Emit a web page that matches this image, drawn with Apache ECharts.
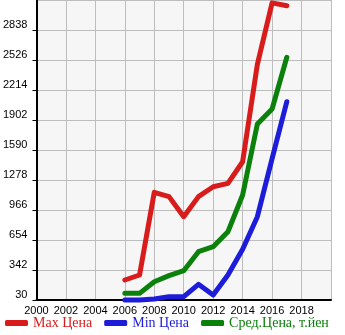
<!DOCTYPE html>
<html>
<head>
<meta charset="utf-8">
<script src="https://cdn.jsdelivr.net/npm/echarts@6/dist/echarts.min.js"></script>
<style>
  html, body { margin: 0; padding: 0; background: #ffffff; }
  #chart { width: 345px; height: 335px; }
</style>
</head>
<body>
<div id="chart"></div>
<script>
// Price history by model year
const years = [2006, 2007, 2008, 2009, 2010, 2011, 2012, 2013, 2014, 2015, 2016, 2017];
const maxPrice = [238, 290, 1150, 1105, 896, 1105, 1208, 1243, 1468, 2480, 3120, 3090];
const minPrice = [30, 30, 40, 65, 65, 193, 82, 290, 557, 896, 1500, 2092];
const avgPrice = [99, 99, 220, 283, 335, 532, 584, 740, 1122, 1860, 2016, 2554];

const seriesNames = ['Max Цена', 'Min Цена', 'Сред.Цена, т.йен'];
const seriesColors = ['#d81b1b', '#1d1dd9', '#0b800b'];

const pairs = vals => years.map((y, i) => [y, vals[i]]);

const chart = echarts.init(document.getElementById('chart'));

chart.setOption({
  animation: false,
  grid: {
    left: 31, right: 14, top: 0, bottom: 35,
    show: true, backgroundColor: '#f6f6f6', borderWidth: 0
  },
  legend: {
    left: 0, bottom: 0,
    itemWidth: 23, itemHeight: 6, itemGap: 12,
    icon: 'roundRect',
    data: seriesNames.map((n, i) => ({
      name: n,
      textStyle: { color: seriesColors[i] }
    })),
    textStyle: { fontFamily: 'Liberation Serif', fontSize: 14 }
  },
  xAxis: {
    type: 'value', min: 2000, max: 2020, interval: 2,
    axisLine: { show: true, lineStyle: { color: '#000', width: 2 } },
    axisTick: { show: false },
    splitLine: { show: true, lineStyle: { color: '#bdbdbd', width: 1 } },
    axisLabel: {
      showMaxLabel: false, margin: 5,
      color: '#000', fontFamily: 'Liberation Sans', fontSize: 11,
      formatter: v => String(v)
    }
  },
  yAxis: {
    type: 'value', min: 30, max: 3150, interval: 312,
    axisLine: { show: true, lineStyle: { color: '#000', width: 2 } },
    axisTick: { show: true, length: 4, lineStyle: { color: '#000', width: 1 } },
    splitLine: { show: true, lineStyle: { color: '#bdbdbd', width: 1 } },
    axisLabel: {
      showMaxLabel: false, margin: 9,
      color: '#000', fontFamily: 'Liberation Sans', fontSize: 11,
      verticalAlign: 'bottom',
      formatter: v => String(v)
    }
  },
  series: [maxPrice, minPrice, avgPrice].map((vals, i) => ({
    name: seriesNames[i],
    type: 'line',
    data: pairs(vals),
    showSymbol: false,
    symbol: 'none',
    clip: false,
    color: seriesColors[i],
    lineStyle: { width: 5, color: seriesColors[i], cap: 'round', join: 'round' }
  }))
});
</script>
</body>
</html>
